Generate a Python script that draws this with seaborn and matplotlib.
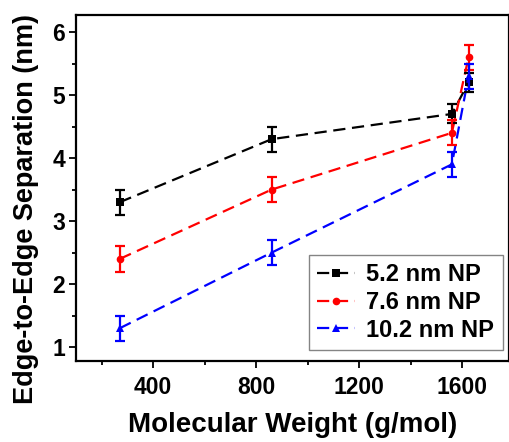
import numpy as np
import pandas as pd
import matplotlib
matplotlib.use("Agg")
import matplotlib.pyplot as plt
import seaborn as sns
from matplotlib.ticker import MultipleLocator

# Data
mw = [270, 860, 1560, 1625]
sep_52 = [3.3, 4.3, 4.7, 5.2]
err_52 = [0.2, 0.2, 0.15, 0.15]
sep_76 = [2.4, 3.5, 4.4, 5.6]
err_76 = [0.2, 0.2, 0.2, 0.2]
sep_102 = [1.3, 2.5, 3.9, 5.3]
err_102 = [0.2, 0.2, 0.2, 0.2]
labels = ["5.2 nm NP", "7.6 nm NP", "10.2 nm NP"]
colors = ["black", "red", "blue"]
markers = ["s", "o", "^"]

df = pd.concat([
    pd.DataFrame({"mw": mw, "sep": s, "err": e, "series": lab})
    for s, e, lab in zip([sep_52, sep_76, sep_102], [err_52, err_76, err_102], labels)
])

sns.set_theme(style="ticks")
plt.rcParams['font.family'] = ['Liberation Sans', 'DejaVu Sans']
plt.rcParams['font.weight'] = 'bold'
plt.rcParams['text.color'] = 'black'
plt.rcParams['axes.labelcolor'] = 'black'
plt.rcParams['xtick.color'] = 'black'
plt.rcParams['ytick.color'] = 'black'

fig = plt.figure(figsize=(5.10, 4.42), dpi=100)
ax = fig.add_axes([76/510, 1 - 361/442, 433/510, 346/442])

sns.lineplot(data=df, x="mw", y="sep", hue="series", style="series",
             palette=dict(zip(labels, colors)), markers=dict(zip(labels, markers)),
             dashes={l: (5.5, 3) for l in labels}, markersize=5.5, linewidth=1.6,
             markeredgewidth=0, sort=False, ax=ax, legend=True)

for lab, c in zip(labels, colors):
    sub = df[df.series == lab]
    ax.errorbar(sub.mw, sub.sep, yerr=sub.err, fmt="none", ecolor=c,
                elinewidth=1.6, capsize=3.5, capthick=1.6)

ax.set_xlim(100, 1782)
ax.set_ylim(0.78, 6.27)
ax.xaxis.set_major_locator(MultipleLocator(400))
ax.xaxis.set_minor_locator(MultipleLocator(200))
ax.yaxis.set_major_locator(MultipleLocator(1))
ax.yaxis.set_minor_locator(MultipleLocator(0.5))
ax.tick_params(which="major", direction="out", length=5, width=1.3, labelsize=16.5, pad=3)
ax.tick_params(axis="x", which="major", pad=6)
ax.tick_params(which="minor", direction="out", length=3, width=1.3)
for sp in ax.spines.values():
    sp.set_linewidth(1.6)
    sp.set_color("black")

ax.set_xlabel("Molecular Weight (g/mol)", fontsize=20, fontweight="bold", labelpad=9)
ax.set_ylabel("Edge-to-Edge Separation (nm)", fontsize=19.5, fontweight="bold")
ax.yaxis.set_label_coords(-0.085, 0.44)

leg = ax.legend(loc="lower right", fontsize=17, handlelength=1.6, frameon=True,
                fancybox=False, edgecolor="#666666", borderpad=0.35, labelspacing=0.2,
                handletextpad=0.5, borderaxespad=0, bbox_to_anchor=(0.985, 0.032))
leg.get_frame().set_linewidth(1.0)

fig.savefig("out.png", dpi=100)
